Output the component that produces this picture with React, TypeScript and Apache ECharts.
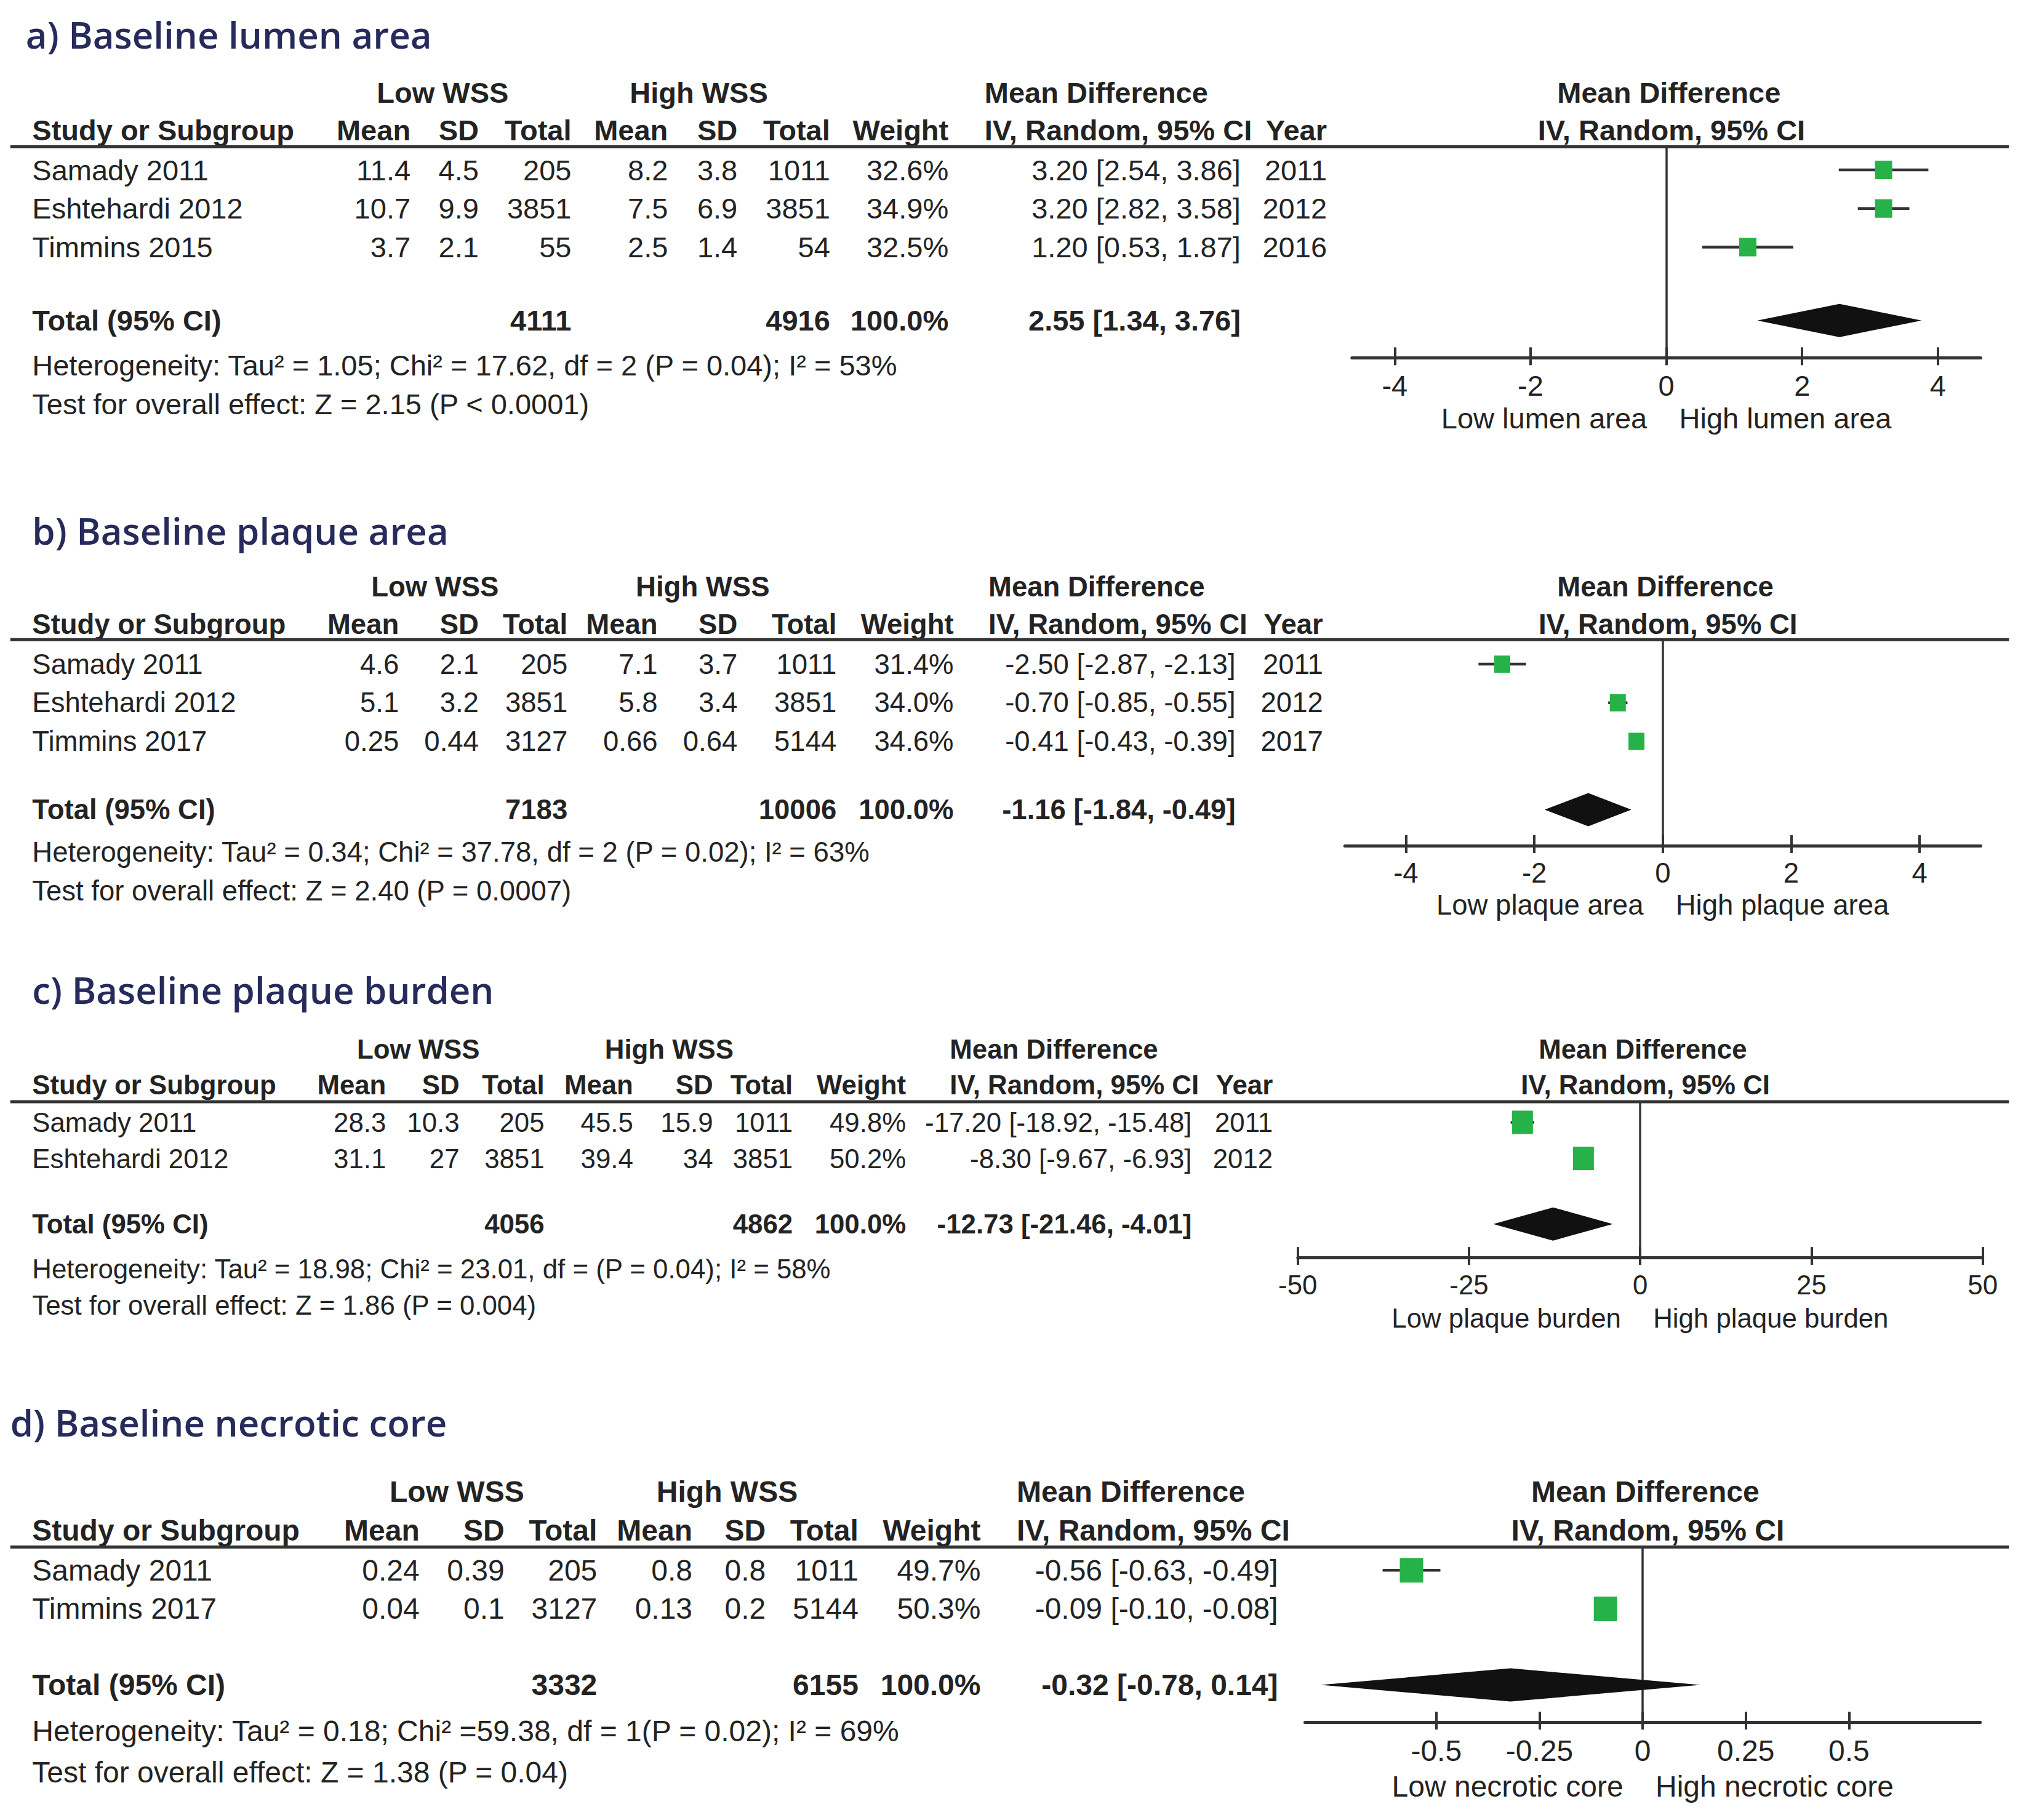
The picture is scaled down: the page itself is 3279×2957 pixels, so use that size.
import React, { useEffect, useRef } from "react";
import * as echarts from "echarts";

const PAGE_W = 3279;
const PAGE_H = 2957;
const K = PAGE_W / 1568;
const P = (v: number) => v * K;

const TEXT = "#232323";
const LINE = "#333333";
const GREEN = "#27b249";
const TITLE_COLOR = "#262b5b";
const FONT = '"Liberation Sans", Arial, Helvetica, sans-serif';
const TITLE_FONT = '600 60px "Open Sans", "Noto Sans", sans-serif';

// ---------- a) Baseline lumen area ----------
const aTitle = "a) Baseline lumen area";
const aStudies = ["Samady 2011", "Eshtehardi 2012", "Timmins 2015"];
const aLowMean = ["11.4", "10.7", "3.7"];
const aLowSD = ["4.5", "9.9", "2.1"];
const aLowN = ["205", "3851", "55"];
const aHighMean = ["8.2", "7.5", "2.5"];
const aHighSD = ["3.8", "6.9", "1.4"];
const aHighN = ["1011", "3851", "54"];
const aWeight = ["32.6%", "34.9%", "32.5%"];
const aMD = [3.2, 3.2, 1.2];
const aLo = [2.54, 2.82, 0.53];
const aHi = [3.86, 3.58, 1.87];
const aYear = ["2011", "2012", "2016"];
const aTotalN = ["4111", "4916"];
const aTotalCI = [2.55, 1.34, 3.76];
const aHet = "Heterogeneity: Tau² = 1.05; Chi² = 17.62, df = 2 (P = 0.04); I² = 53%";
const aTest = "Test for overall effect: Z = 2.15 (P < 0.0001)";
const aTicks = [-4, -2, 0, 2, 4];
const aRange = [-4.63, 4.63];
const aSide = ["Low lumen area", "High lumen area"];

// ---------- b) Baseline plaque area ----------
const bTitle = "b) Baseline plaque area";
const bStudies = ["Samady 2011", "Eshtehardi 2012", "Timmins 2017"];
const bLowMean = ["4.6", "5.1", "0.25"];
const bLowSD = ["2.1", "3.2", "0.44"];
const bLowN = ["205", "3851", "3127"];
const bHighMean = ["7.1", "5.8", "0.66"];
const bHighSD = ["3.7", "3.4", "0.64"];
const bHighN = ["1011", "3851", "5144"];
const bWeight = ["31.4%", "34.0%", "34.6%"];
const bMD = [-2.5, -0.7, -0.41];
const bLo = [-2.87, -0.85, -0.43];
const bHi = [-2.13, -0.55, -0.39];
const bYear = ["2011", "2012", "2017"];
const bTotalN = ["7183", "10006"];
const bTotalCI = [-1.16, -1.84, -0.49];
const bHet = "Heterogeneity: Tau² = 0.34; Chi² = 37.78, df = 2 (P = 0.02); I² = 63%";
const bTest = "Test for overall effect: Z = 2.40 (P = 0.0007)";
const bTicks = [-4, -2, 0, 2, 4];
const bRange = [-4.95, 4.95];
const bSide = ["Low plaque area", "High plaque area"];

// ---------- c) Baseline plaque burden ----------
const cTitle = "c) Baseline plaque burden";
const cStudies = ["Samady 2011", "Eshtehardi 2012"];
const cLowMean = ["28.3", "31.1"];
const cLowSD = ["10.3", "27"];
const cLowN = ["205", "3851"];
const cHighMean = ["45.5", "39.4"];
const cHighSD = ["15.9", "34"];
const cHighN = ["1011", "3851"];
const cWeight = ["49.8%", "50.2%"];
const cMD = [-17.2, -8.3];
const cLo = [-18.92, -9.67];
const cHi = [-15.48, -6.93];
const cYear = ["2011", "2012"];
const cTotalN = ["4056", "4862"];
const cTotalCI = [-12.73, -21.46, -4.01];
const cHet = "Heterogeneity: Tau² = 18.98; Chi² = 23.01, df = (P = 0.04); I² = 58%";
const cTest = "Test for overall effect: Z = 1.86 (P = 0.004)";
const cTicks = [-50, -25, 0, 25, 50];
const cRange = [-50, 50];
const cSide = ["Low plaque burden", "High plaque burden"];

// ---------- d) Baseline necrotic core ----------
const dTitle = "d) Baseline necrotic core";
const dStudies = ["Samady 2011", "Timmins 2017"];
const dLowMean = ["0.24", "0.04"];
const dLowSD = ["0.39", "0.1"];
const dLowN = ["205", "3127"];
const dHighMean = ["0.8", "0.13"];
const dHighSD = ["0.8", "0.2"];
const dHighN = ["1011", "5144"];
const dWeight = ["49.7%", "50.3%"];
const dMD = [-0.56, -0.09];
const dLo = [-0.63, -0.1];
const dHi = [-0.49, -0.08];
const dTotalN = ["3332", "6155"];
const dTotalCI = [-0.32, -0.78, 0.14];
const dHet = "Heterogeneity: Tau² = 0.18; Chi² =59.38, df = 1(P = 0.02); I² = 69%";
const dTest = "Test for overall effect: Z = 1.38 (P = 0.04)";
const dTicks = [-0.5, -0.25, 0, 0.25, 0.5];
const dRange = [-0.818, 0.818];
const dSide = ["Low necrotic core", "High necrotic core"];

// ---------- layout (in units of the 1568-wide reference view) ----------
type Layout = {
  titleX: number; title: number; h1: number; h2: number; line: number; row0: number; step: number; totalAt: number;
  het: number; test: number; axis: number; sub: number; left: number; right: number; fs: number;
  mean1: number; sd1: number; n1: number; mean2: number; sd2: number; n2: number; weight: number;
  ci: number; year: number; ciHead: number; low: number; high: number; box: number[];
};

const layA: Layout = { titleX: 20, title: 27, h1: 72, h2: 101, line: 114, row0: 132, step: 30, totalAt: 3.9, het: 284, test: 314, axis: 278, sub: 325, left: 1050.5, right: 1539, fs: 47,
  mean1: 319, sd1: 372, n1: 444, mean2: 519, sd2: 573, n2: 645, weight: 737, ci: 964, year: 1031, ciHead: 765, low: 344, high: 543, box: [28, 30] };
const layB: Layout = { titleX: 25, title: 412, h1: 456, h2: 485, line: 497, row0: 516, step: 30, totalAt: 3.77, het: 662, test: 692, axis: 657, sub: 703, left: 1045, right: 1539, fs: 45.5,
  mean1: 310, sd1: 372, n1: 441, mean2: 511, sd2: 573, n2: 650, weight: 741, ci: 960, year: 1028, ciHead: 768, low: 338, high: 546, box: [26, 28] };
const layC: Layout = { titleX: 25, title: 769, h1: 815, h2: 843, line: 856, row0: 872, step: 28, totalAt: 2.82, het: 986, test: 1014, axis: 977, sub: 1024, left: 1008.4, right: 1540.6, fs: 43.8,
  mean1: 300, sd1: 357, n1: 423, mean2: 492, sd2: 554, n2: 616, weight: 704, ci: 926, year: 989, ciHead: 738, low: 325, high: 520, box: [34, 38] };
const layD: Layout = { titleX: 8, title: 1105, h1: 1159, h2: 1189, line: 1202, row0: 1220, step: 30, totalAt: 2.97, het: 1345, test: 1377, axis: 1338, sub: 1388, left: 1014, right: 1538.7, fs: 48,
  mean1: 326, sd1: 392, n1: 464, mean2: 538, sd2: 595, n2: 667, weight: 762, ci: 993, year: 0, ciHead: 790, low: 355, high: 565, box: [38, 40] };

type Panel = {
  title: string; studies: string[]; lowMean: string[]; lowSD: string[]; lowN: string[];
  highMean: string[]; highSD: string[]; highN: string[]; weight: string[];
  md: number[]; lo: number[]; hi: number[]; year: string[] | null;
  totalN: string[]; totalCI: number[]; het: string; test: string;
  ticks: number[]; range: number[]; side: string[]; L: Layout;
};

const panels: Panel[] = [
  { title: aTitle, studies: aStudies, lowMean: aLowMean, lowSD: aLowSD, lowN: aLowN, highMean: aHighMean, highSD: aHighSD, highN: aHighN, weight: aWeight,
    md: aMD, lo: aLo, hi: aHi, year: aYear, totalN: aTotalN, totalCI: aTotalCI, het: aHet, test: aTest, ticks: aTicks, range: aRange, side: aSide, L: layA },
  { title: bTitle, studies: bStudies, lowMean: bLowMean, lowSD: bLowSD, lowN: bLowN, highMean: bHighMean, highSD: bHighSD, highN: bHighN, weight: bWeight,
    md: bMD, lo: bLo, hi: bHi, year: bYear, totalN: bTotalN, totalCI: bTotalCI, het: bHet, test: bTest, ticks: bTicks, range: bRange, side: bSide, L: layB },
  { title: cTitle, studies: cStudies, lowMean: cLowMean, lowSD: cLowSD, lowN: cLowN, highMean: cHighMean, highSD: cHighSD, highN: cHighN, weight: cWeight,
    md: cMD, lo: cLo, hi: cHi, year: cYear, totalN: cTotalN, totalCI: cTotalCI, het: cHet, test: cTest, ticks: cTicks, range: cRange, side: cSide, L: layC },
  { title: dTitle, studies: dStudies, lowMean: dLowMean, lowSD: dLowSD, lowN: dLowN, highMean: dHighMean, highSD: dHighSD, highN: dHighN, weight: dWeight,
    md: dMD, lo: dLo, hi: dHi, year: null, totalN: dTotalN, totalCI: dTotalCI, het: dHet, test: dTest, ticks: dTicks, range: dRange, side: dSide, L: layD },
];

const ciText = (m: number, l: number, h: number) => `${m.toFixed(2)} [${l.toFixed(2)}, ${h.toFixed(2)}]`;

function txt(s: string, x: number, y: number, font: string, align: string = "left", fill: string = TEXT) {
  return {
    type: "text",
    x: P(x),
    y: P(y),
    silent: true,
    style: { text: s, font, fill, align, textAlign: align, verticalAlign: "middle", textVerticalAlign: "middle" },
  };
}

function buildOption() {
  const grids: any[] = [];
  const xAxes: any[] = [];
  const yAxes: any[] = [];
  const series: any[] = [];
  const g: any[] = [];

  panels.forEach((p, i) => {
    const L = p.L;
    const REG = `${L.fs}px ${FONT}`;
    const BOLD = `bold ${L.fs}px ${FONT}`;
    const gh = P(L.axis - L.line);
    grids.push({ left: P(L.left), top: P(L.line), width: P(L.right - L.left), height: gh, containLabel: false, outerBoundsMode: "none" });
    xAxes.push({
      gridIndex: i, type: "value", min: p.range[0], max: p.range[1], position: "bottom",
      axisLine: { show: true, onZero: false, lineStyle: { color: LINE, width: 5 } },
      axisTick: { show: true, inside: true, length: 17, customValues: p.ticks, lineStyle: { color: LINE, width: 4 } },
      axisLabel: { show: true, customValues: p.ticks, margin: 22, fontSize: L.fs, fontFamily: FONT, color: TEXT, formatter: (v: number) => String(v) },
      splitLine: { show: false },
    });
    xAxes.push({
      gridIndex: i, type: "value", min: p.range[0], max: p.range[1], position: "top", offset: -gh,
      axisLine: { show: false, onZero: false },
      axisTick: { show: true, inside: true, length: 12, customValues: p.ticks, lineStyle: { color: LINE, width: 4 } },
      axisLabel: { show: false },
      splitLine: { show: false },
    });
    yAxes.push({
      gridIndex: i, type: "value", inverse: true,
      min: (L.line - L.row0) / L.step, max: (L.axis - L.row0) / L.step,
      axisLine: { show: true, onZero: true, lineStyle: { color: LINE, width: 3.5 } },
      axisTick: { show: false }, axisLabel: { show: false }, splitLine: { show: false },
    });

    // confidence intervals
    series.push({
      type: "custom", xAxisIndex: 2 * i, yAxisIndex: i, clip: false, silent: true,
      data: p.md.map((_, j) => [p.lo[j], p.hi[j], j]),
      encode: { x: [0, 1], y: 2 },
      renderItem: (_params: any, api: any) => {
        const a = api.coord([api.value(0), api.value(2)]);
        const b = api.coord([api.value(1), api.value(2)]);
        return { type: "line", shape: { x1: a[0], y1: a[1], x2: b[0], y2: b[1] }, style: { stroke: LINE, lineWidth: 4.5 } };
      },
    });
    // point estimates
    series.push({
      type: "scatter", xAxisIndex: 2 * i, yAxisIndex: i, silent: true, clip: false,
      symbol: "rect", symbolSize: L.box,
      data: p.md.map((v, j) => [v, j]),
      itemStyle: { color: GREEN, opacity: 1 },
    });
    // pooled diamond
    series.push({
      type: "custom", xAxisIndex: 2 * i, yAxisIndex: i, clip: false, silent: true,
      data: [[p.totalCI[1], p.totalCI[0], p.totalCI[2], L.totalAt]],
      encode: { x: [0, 1, 2], y: 3 },
      renderItem: (_params: any, api: any) => {
        const y = api.value(3);
        const l = api.coord([api.value(0), y]);
        const m = api.coord([api.value(1), y]);
        const r = api.coord([api.value(2), y]);
        const h = 27;
        return {
          type: "polygon",
          shape: { points: [[l[0], l[1]], [m[0], m[1] - h], [r[0], r[1]], [m[0], m[1] + h]] },
          style: { fill: "#111111" },
        };
      },
    });

    // ----- text table -----
    const rowY = (j: number) => L.row0 + j * L.step;
    const totY = L.row0 + L.totalAt * L.step;
    g.push(txt(p.title, L.titleX, L.title, TITLE_FONT, "left", TITLE_COLOR));
    g.push(txt("Low WSS", L.low, L.h1, BOLD, "center"));
    g.push(txt("High WSS", L.high, L.h1, BOLD, "center"));
    g.push(txt("Mean Difference", L.ciHead, L.h1, BOLD, "left"));
    g.push(txt("Study or Subgroup", 25, L.h2, BOLD, "left"));
    g.push(txt("Mean", L.mean1, L.h2, BOLD, "right"));
    g.push(txt("SD", L.sd1, L.h2, BOLD, "right"));
    g.push(txt("Total", L.n1, L.h2, BOLD, "right"));
    g.push(txt("Mean", L.mean2, L.h2, BOLD, "right"));
    g.push(txt("SD", L.sd2, L.h2, BOLD, "right"));
    g.push(txt("Total", L.n2, L.h2, BOLD, "right"));
    g.push(txt("Weight", L.weight, L.h2, BOLD, "right"));
    g.push(txt("IV, Random, 95% CI", L.ciHead, L.h2, BOLD, "left"));
    if (p.year) g.push(txt("Year", L.year, L.h2, BOLD, "right"));

    const zx = L.left + ((0 - p.range[0]) / (p.range[1] - p.range[0])) * (L.right - L.left);
    g.push(txt("Mean Difference", zx + 2, L.h1, BOLD, "center"));
    g.push(txt("IV, Random, 95% CI", zx + 4, L.h2, BOLD, "center"));
    g.push(txt(p.side[0], zx - 15, L.sub, REG, "right"));
    g.push(txt(p.side[1], zx + 10, L.sub, REG, "left"));

    g.push({ type: "line", silent: true, shape: { x1: P(8), y1: P(L.line), x2: P(1561), y2: P(L.line) }, style: { stroke: LINE, lineWidth: 5 } });

    p.studies.forEach((s, j) => {
      const y = rowY(j);
      g.push(txt(s, 25, y, REG, "left"));
      g.push(txt(p.lowMean[j], L.mean1, y, REG, "right"));
      g.push(txt(p.lowSD[j], L.sd1, y, REG, "right"));
      g.push(txt(p.lowN[j], L.n1, y, REG, "right"));
      g.push(txt(p.highMean[j], L.mean2, y, REG, "right"));
      g.push(txt(p.highSD[j], L.sd2, y, REG, "right"));
      g.push(txt(p.highN[j], L.n2, y, REG, "right"));
      g.push(txt(p.weight[j], L.weight, y, REG, "right"));
      g.push(txt(ciText(p.md[j], p.lo[j], p.hi[j]), L.ci, y, REG, "right"));
      if (p.year) g.push(txt(p.year[j], L.year, y, REG, "right"));
    });

    g.push(txt("Total (95% CI)", 25, totY, BOLD, "left"));
    g.push(txt(p.totalN[0], L.n1, totY, BOLD, "right"));
    g.push(txt(p.totalN[1], L.n2, totY, BOLD, "right"));
    g.push(txt("100.0%", L.weight, totY, BOLD, "right"));
    g.push(txt(ciText(p.totalCI[0], p.totalCI[1], p.totalCI[2]), L.ci, totY, BOLD, "right"));
    g.push(txt(p.het, 25, L.het, REG, "left"));
    g.push(txt(p.test, 25, L.test, REG, "left"));
  });

  return {
    animation: false,
    backgroundColor: "#ffffff",
    grid: grids,
    xAxis: xAxes,
    yAxis: yAxes,
    series,
    graphic: { elements: g },
  };
}

export default function App() {
  const ref = useRef<HTMLDivElement>(null);
  useEffect(() => {
    document.body.style.margin = "0";
    const chart = echarts.init(ref.current!, undefined, { renderer: "svg", width: PAGE_W, height: PAGE_H });
    chart.setOption(buildOption() as any);
    return () => chart.dispose();
  }, []);
  return <div ref={ref} style={{ width: PAGE_W, height: PAGE_H, background: "#fff" }} />;
}
